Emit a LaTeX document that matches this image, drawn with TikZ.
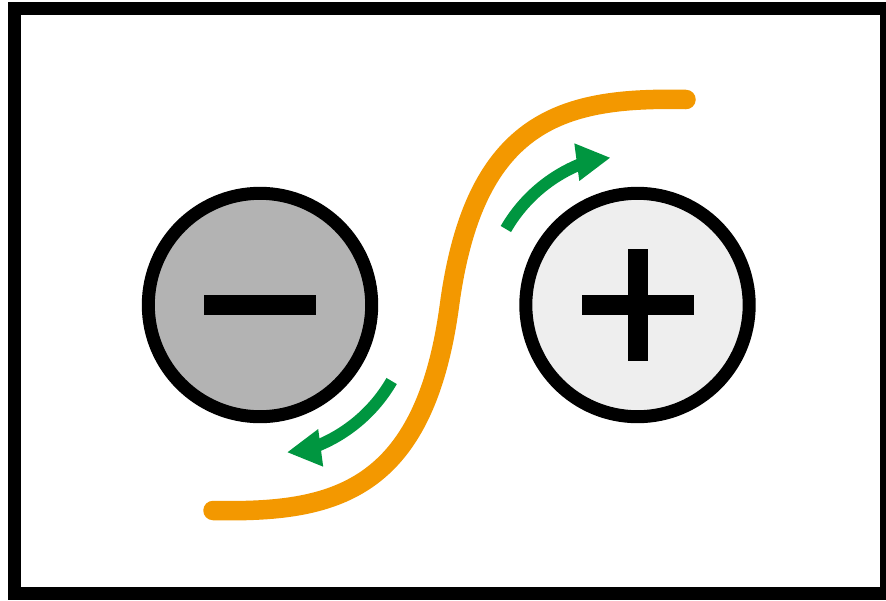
\documentclass[tikz,border=0pt]{standalone}
\usetikzlibrary{calc}
\definecolor{orng}{RGB}{243,152,0}
\definecolor{grn}{RGB}{0,150,64}
\definecolor{dgray}{RGB}{179,179,179}
\definecolor{lgray}{RGB}{238,238,238}
\begin{document}
\begin{tikzpicture}[x=1pt,y=-1pt,
  ring/.style={circle,draw=black,line width=13pt,minimum size=223.4pt,inner sep=0pt,outer sep=0pt},
  sign/.style={fill=black},
  wire/.style={draw=orng,line width=19.5pt,line cap=round},
  shaft/.style={draw=grn,line width=12pt},
  head/.style={fill=grn}]
\useasboundingbox (0,0) rectangle (886,600);
\draw[line width=13pt] (14.7,8.3) rectangle (886.5,593.5);
\node[ring,fill=dgray] (neg) at (260,305) {};
\node[ring,fill=lgray] (pos) at (637.5,305) {};
% minus
\fill[sign] (204,295) rectangle (316,315);
% plus
\fill[sign] (581.5,295) rectangle (693.5,315);
\fill[sign] (627.5,249) rectangle (647.5,361);
% orange wire
\coordinate (w0) at (213,510.5);
\coordinate (wm) at (449.5,305);
\coordinate (w1) at (686,99.5);
\draw[wire] (w0) .. controls (333,513) and (424.2,493.3) .. (wm)
  .. controls (474.8,116.7) and (566,97) .. (w1);
% upper arrow
\draw[shaft] ($(pos.center)+(210:152)$) arc[start angle=210, end angle=248, radius=152];
\fill[head] ($(pos.center)+(248.65:173.6)$) -- ($(pos.center)+(259.4:149.8)$) -- ($(pos.center)+(244.86:137)$) -- cycle;
% lower arrow
\draw[shaft] ($(neg.center)+(30:152)$) arc[start angle=30, end angle=68, radius=152];
\fill[head] ($(neg.center)+(68.65:173.6)$) -- ($(neg.center)+(79.4:149.8)$) -- ($(neg.center)+(64.86:137)$) -- cycle;
\end{tikzpicture}
\end{document}
